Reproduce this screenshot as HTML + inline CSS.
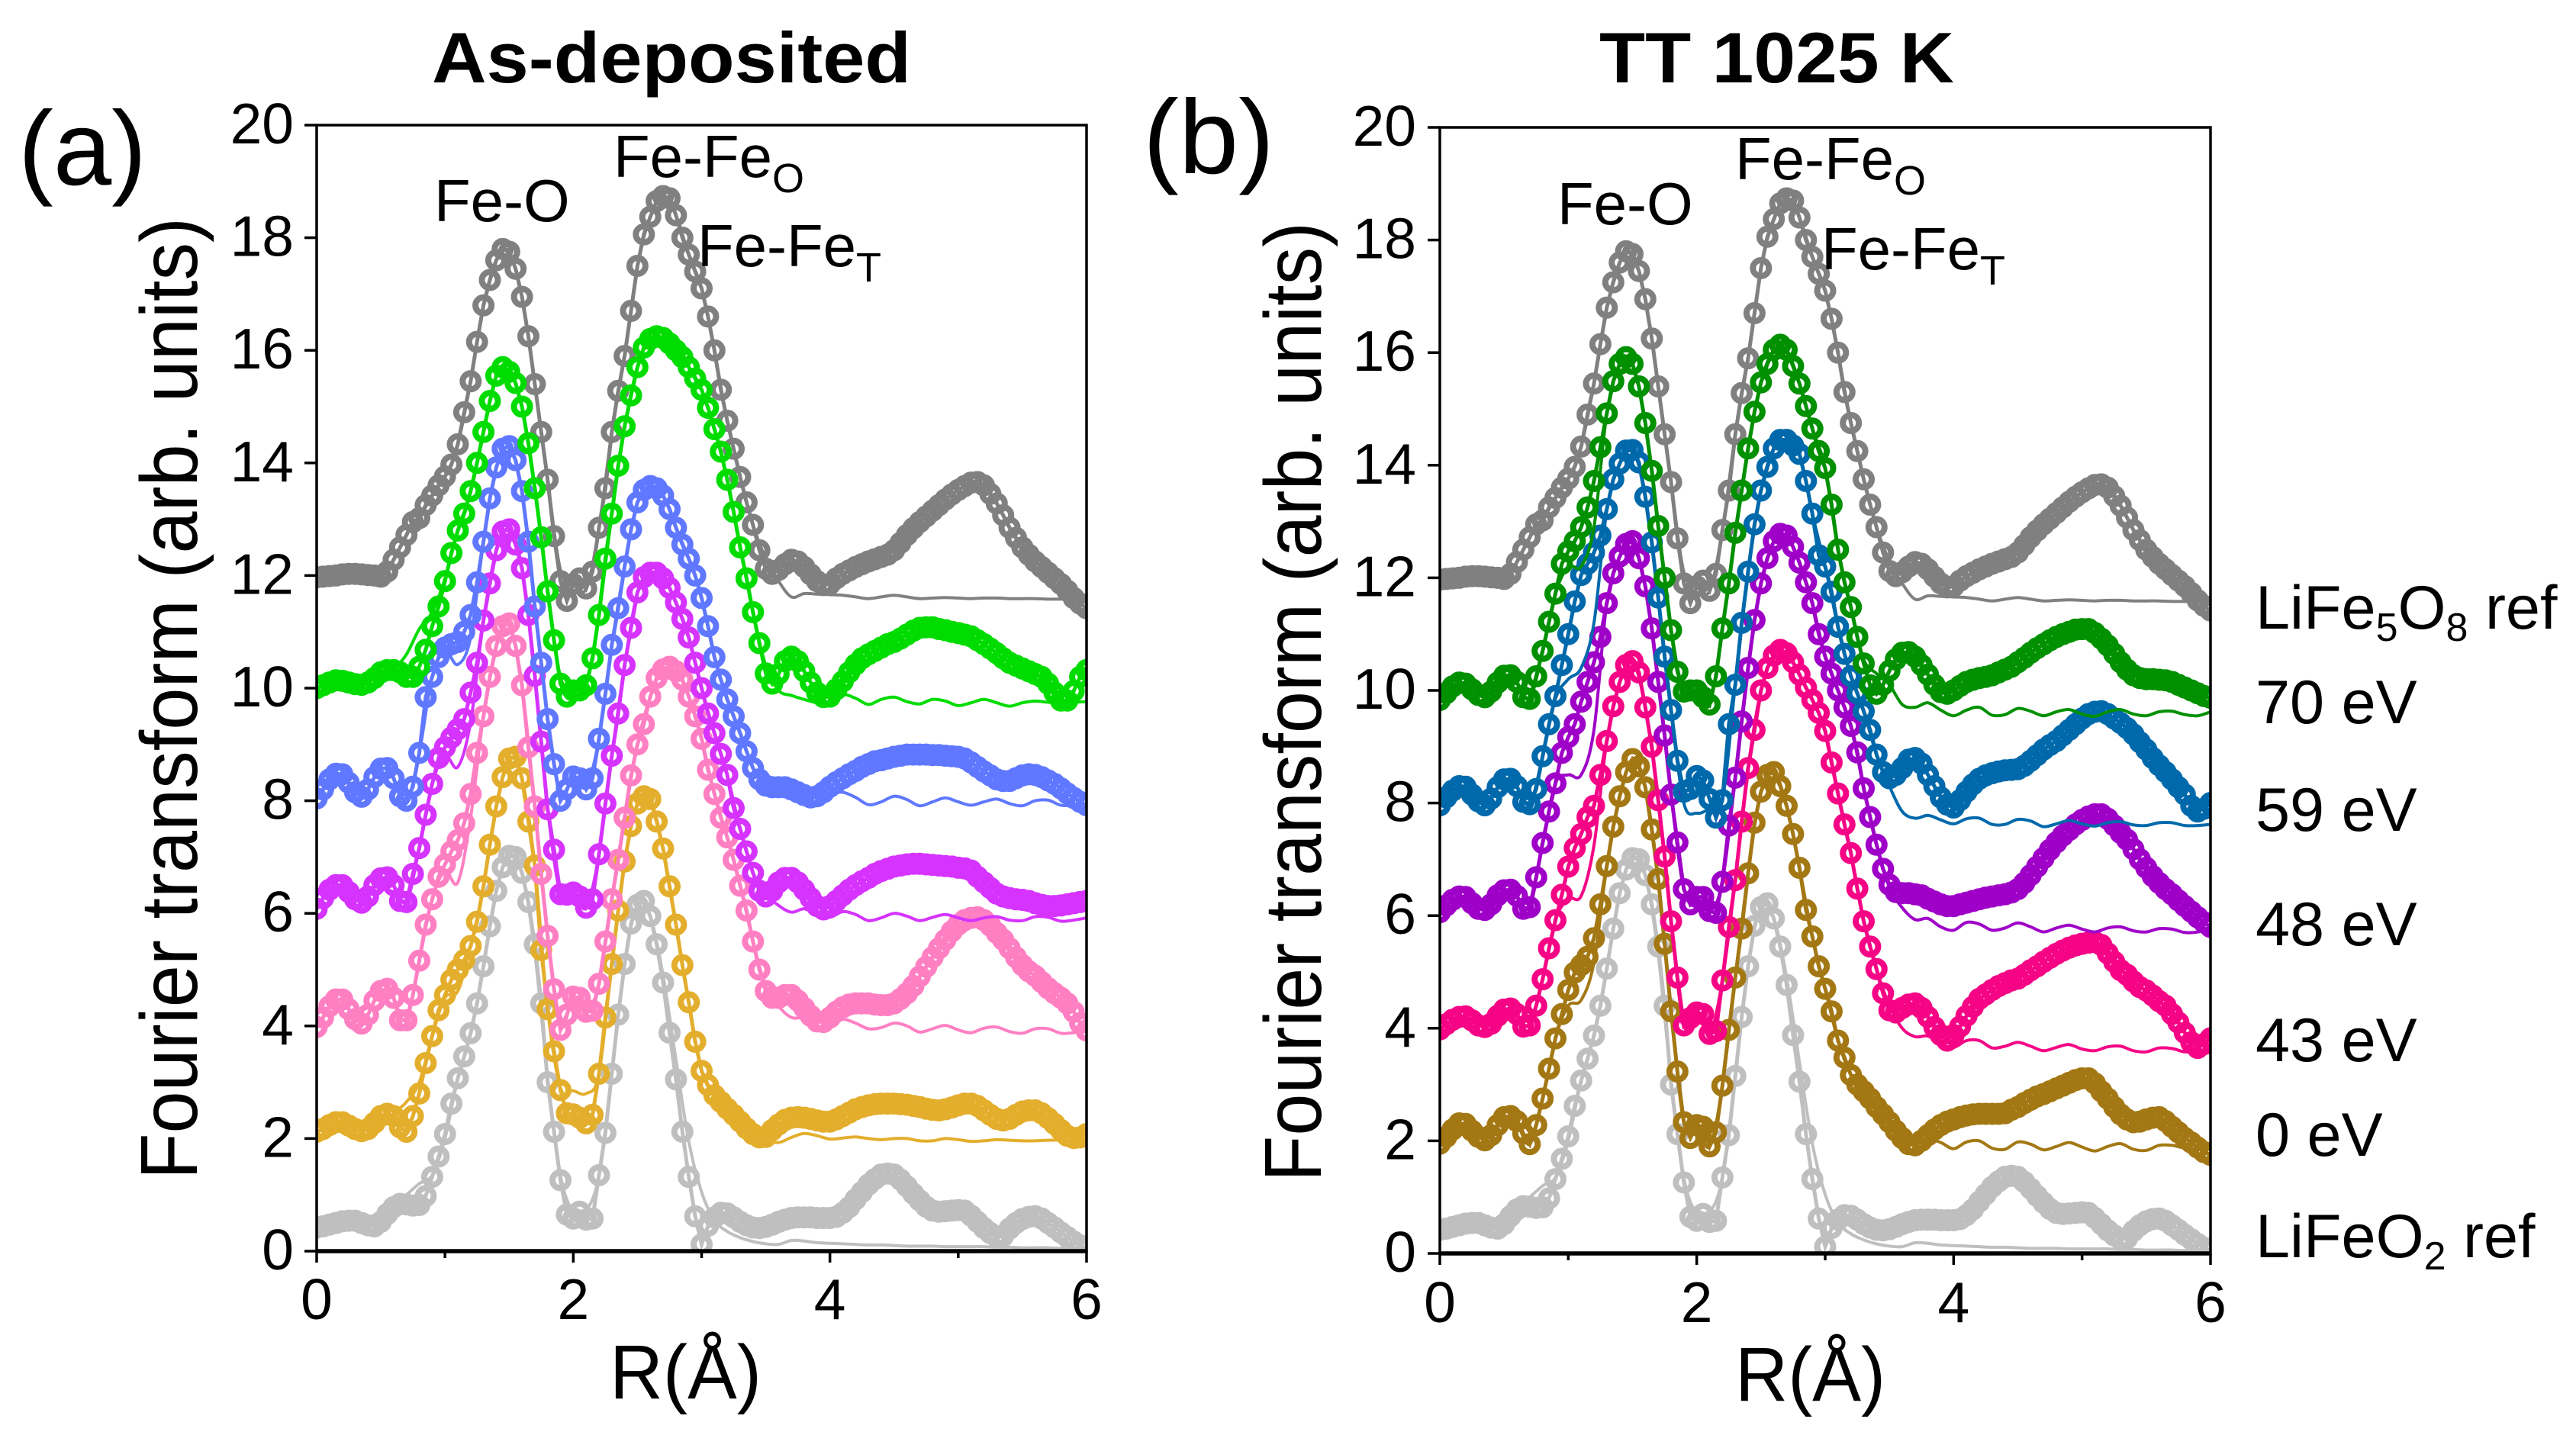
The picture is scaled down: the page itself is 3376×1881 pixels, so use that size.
<!DOCTYPE html>
<html lang="en">
<head>
<meta charset="utf-8">
<title>Fourier transform EXAFS: As-deposited and TT 1025 K</title>
<style>
html,body{margin:0;padding:0;background:#fff;}
svg{display:block;}
text{font-family:"Liberation Sans",sans-serif;fill:#000;}
</style>
</head>
<body>
<svg id="chart" xmlns="http://www.w3.org/2000/svg" width="3376" height="1881" viewBox="0 0 3376 1881">
<rect x="0" y="0" width="3376" height="1881" fill="#fff"/>
<defs>
<clipPath id="clip-a"><rect x="415" y="164" width="1009" height="1476"/></clipPath>
<clipPath id="clip-b"><rect x="1887" y="167" width="1010" height="1476"/></clipPath>
</defs>
<g id="panel-a"></g>
<g id="panel-b"></g>

<text x="566" y="108" font-size="94" font-weight="700" textLength="628" lengthAdjust="spacingAndGlyphs">As-deposited</text>
<text x="2096" y="108" font-size="94" font-weight="700" textLength="465" lengthAdjust="spacingAndGlyphs">TT 1025 K</text>
<text x="24" y="242" font-size="138" textLength="168" lengthAdjust="spacingAndGlyphs">(a)</text>
<text x="1498" y="227" font-size="138" textLength="172" lengthAdjust="spacingAndGlyphs">(b)</text>

<text transform="translate(258,1546) rotate(-90)" font-size="106" textLength="1261" lengthAdjust="spacingAndGlyphs">Fourier transform (arb. units)</text>
<text transform="translate(1731,1549) rotate(-90)" font-size="106" textLength="1258" lengthAdjust="spacingAndGlyphs">Fourier transform (arb. units)</text>
<text x="799" y="1833" font-size="100" textLength="199" lengthAdjust="spacingAndGlyphs">R(Å)</text>
<text x="2274" y="1836" font-size="100" textLength="197" lengthAdjust="spacingAndGlyphs">R(Å)</text>

<text x="569" y="290" font-size="78">Fe-O</text>
<text x="804" y="232" font-size="78">Fe-Fe<tspan font-size="54" dy="20">O</tspan></text>
<text x="914" y="349" font-size="78">Fe-Fe<tspan font-size="54" dy="20">T</tspan></text>
<text x="2041" y="294" font-size="78">Fe-O</text>
<text x="2274" y="235" font-size="78">Fe-Fe<tspan font-size="54" dy="20">O</tspan></text>
<text x="2387" y="353" font-size="78">Fe-Fe<tspan font-size="54" dy="20">T</tspan></text>

<text x="2956" y="824" font-size="81">LiFe<tspan font-size="52" dy="16">5</tspan><tspan dy="-16">O</tspan><tspan font-size="52" dy="16">8</tspan><tspan dy="-16"> ref</tspan></text>
<text x="2956" y="948" font-size="81">70 eV</text>
<text x="2956" y="1089" font-size="81">59 eV</text>
<text x="2956" y="1239" font-size="81">48 eV</text>
<text x="2956" y="1391" font-size="81">43 eV</text>
<text x="2956" y="1515" font-size="81">0 eV</text>
<text x="2956" y="1648" font-size="81">LiFeO<tspan font-size="52" dy="16">2</tspan><tspan dy="-16"> ref</tspan></text>
</svg>

<script>
const xTickLabels = [0, 2, 4, 6];
const xMinorTicks = [1, 3, 5];
const yTickLabels = [0, 2, 4, 6, 8, 10, 12, 14, 16, 18, 20];
const dataStep = 0.05;
const fitStart = 0.6;
const fitStep = 0.1;

const lifeO8Data = [11.97,11.98,11.99,12.0,12.02,12.03,12.03,12.02,12.01,12.0,11.98,
12.07,12.28,12.5,12.72,12.95,13.02,13.25,13.42,13.6,13.76,
13.97,14.33,14.9,15.45,16.15,16.8,17.25,17.6,17.8,17.75,
17.45,16.95,16.25,15.4,14.55,13.7,12.7,11.9,11.55,11.85,
11.95,11.77,12.07,12.85,13.55,14.55,15.28,15.9,16.7,17.5,
18.06,18.37,18.65,18.74,18.7,18.4,18.0,17.7,17.4,17.1,
16.6,16.0,15.3,14.75,14.25,13.75,13.3,12.9,12.45,12.12,
12.03,12.1,12.2,12.28,12.25,12.15,12.02,11.9,11.83,11.85,
11.95,12.03,12.09,12.15,12.2,12.25,12.29,12.33,12.37,12.45,
12.58,12.72,12.84,12.95,13.05,13.15,13.25,13.35,13.44,13.52,
13.59,13.65,13.66,13.6,13.45,13.28,13.07,12.85,12.67,12.5,
12.37,12.25,12.15,12.05,11.95,11.85,11.73,11.6,11.5,11.42];
const lifeO8Fit = [12.28,12.72,13.02,13.42,13.76,14.33,15.45,16.8,17.6,17.75,16.95,15.4,13.7,12.1,11.85,11.77,12.85,14.55,15.9,17.5,18.37,18.74,18.4,17.7,17.1,16.0,14.75,13.75,12.9,12.3,11.9,11.62,11.68,11.67,11.66,11.65,11.62,11.59,11.62,11.65,11.62,11.59,11.6,11.61,11.6,11.59,11.6,11.6,11.59,11.59,11.59,11.58,11.58,11.57,11.57];

const lifeO2Data = [.42,.44,.47,.5,.53,.54,.54,.5,.46,.44,.52,
.66,.78,.84,.83,.81,.82,.98,1.32,1.68,2.08,
2.62,3.07,3.46,3.87,4.4,5.06,5.77,6.4,6.82,7.02,
7.0,6.72,6.2,5.45,4.4,3.0,2.12,1.26,.65,.58,
.7,.56,.58,1.35,2.1,3.15,4.2,5.1,5.82,6.15,
6.22,5.95,5.45,4.77,3.88,3.05,2.12,1.32,.62,.12,
.45,.6,.68,.67,.6,.52,.46,.42,.41,.43,
.47,.52,.56,.59,.6,.6,.6,.59,.59,.59,
.61,.68,.78,.92,1.05,1.18,1.28,1.36,1.38,1.36,
1.27,1.15,1.02,.9,.79,.72,.7,.71,.72,.73,
.72,.63,.52,.41,.32,.25,.27,.4,.5,.57,
.61,.62,.58,.5,.42,.33,.25,.17,.1,.05];
const lifeO2Fit = [.82,1.0,1.2,1.35,2.0,3.07,3.87,5.06,6.4,7.02,6.72,5.3,3.1,1.35,.7,.72,1.35,3.15,5.1,6.15,5.95,4.9,3.4,1.95,1.05,.55,.35,.24,.17,.13,.12,.19,.18,.15,.14,.13,.12,.11,.11,.1,.09,.09,.09,.08,.08,.08,.08,.07,.07,.06,.06,.06,.05,.05,.05];

const a70Data = [10.0,10.05,10.1,10.14,10.13,10.1,10.07,10.06,10.1,10.18,10.28,
10.32,10.32,10.28,10.2,10.2,10.38,10.68,11.1,11.45,11.9,
12.4,12.8,13.1,13.5,14.0,14.55,15.1,15.55,15.7,15.62,
15.42,15.0,14.35,13.55,12.68,11.72,10.85,10.08,9.85,9.96,
9.96,10.05,10.53,11.3,12.3,13.1,13.95,14.65,15.2,15.7,
16.05,16.2,16.25,16.22,16.12,16.0,15.88,15.7,15.5,15.3,
14.98,14.6,14.2,13.7,13.13,12.5,11.95,11.35,10.8,10.26,
10.08,10.25,10.48,10.56,10.48,10.3,10.1,9.92,9.84,9.85,
9.98,10.12,10.28,10.42,10.53,10.6,10.66,10.72,10.78,10.82,
10.88,10.95,11.02,11.07,11.08,11.08,11.05,11.03,11.0,10.98,
10.95,10.92,10.85,10.78,10.7,10.62,10.53,10.45,10.4,10.35,
10.3,10.25,10.2,10.08,9.92,9.78,9.78,9.95,10.2,10.32];
const a70Fit = [10.32,10.6,11.05,11.35,11.95,12.8,13.5,14.55,15.55,15.62,15.0,13.55,11.72,10.2,10.0,10.1,11.3,13.1,14.65,15.7,16.2,16.22,16.0,15.7,15.3,14.6,13.7,12.5,11.35,10.4,9.96,9.87,9.8,9.74,9.72,9.88,9.82,9.71,9.8,9.84,9.76,9.72,9.8,9.77,9.69,9.74,9.8,9.74,9.68,9.74,9.77,9.75,9.74,9.75,9.76];

const a59Data = [8.04,8.2,8.38,8.48,8.47,8.32,8.15,8.07,8.2,8.42,8.57,
8.58,8.4,8.08,8.0,8.25,8.85,9.84,10.2,10.55,10.72,
10.78,10.82,11.0,11.3,11.88,12.6,13.37,13.92,14.25,14.3,
14.05,13.5,12.6,11.45,10.45,9.45,8.65,8.0,8.2,8.43,
8.4,8.2,8.4,9.1,9.9,10.77,11.42,12.16,12.82,13.3,
13.52,13.59,13.55,13.42,13.18,12.85,12.55,12.3,12.0,11.6,
11.1,10.55,10.15,9.8,9.5,9.2,8.88,8.58,8.38,8.27,
8.24,8.24,8.24,8.2,8.15,8.1,8.06,8.08,8.15,8.25,
8.33,8.4,8.47,8.53,8.6,8.65,8.7,8.72,8.75,8.78,
8.8,8.82,8.82,8.82,8.82,8.81,8.81,8.8,8.79,8.78,
8.75,8.68,8.6,8.52,8.45,8.38,8.35,8.35,8.4,8.45,
8.47,8.46,8.42,8.36,8.3,8.22,8.13,8.05,7.98,7.92];
const a59Fit = [8.4,8.0,8.85,10.2,10.65,10.42,10.9,12.6,13.92,14.27,13.5,11.45,9.45,8.1,8.4,8.25,9.1,10.77,12.16,13.3,13.59,13.42,12.85,12.3,11.6,10.55,9.8,9.2,8.58,8.27,8.2,8.15,8.1,8.08,8.12,8.15,8.06,7.93,7.98,8.08,8.02,7.91,7.98,8.05,7.98,7.92,7.98,8.03,7.95,7.91,8.0,8.01,7.92,7.92,7.94];

const a48Data = [6.08,6.27,6.42,6.5,6.5,6.38,6.25,6.19,6.3,6.5,6.62,
6.64,6.5,6.22,6.2,6.7,7.16,7.75,8.3,8.76,8.95,
9.12,9.27,9.45,9.92,10.45,11.2,11.86,12.45,12.78,12.82,
12.55,12.13,11.3,10.22,9.05,7.85,7.13,6.34,6.33,6.37,
6.3,6.1,6.25,7.05,7.95,8.8,9.55,10.41,11.07,11.7,
11.97,12.05,12.05,11.95,11.78,11.52,11.23,10.9,10.45,10.0,
9.55,9.2,8.83,8.46,7.87,7.5,7.1,6.72,6.4,6.3,
6.4,6.55,6.63,6.63,6.55,6.42,6.27,6.13,6.07,6.13,
6.22,6.32,6.42,6.5,6.57,6.63,6.7,6.75,6.79,6.83,
6.85,6.87,6.88,6.88,6.87,6.86,6.85,6.84,6.83,6.81,
6.8,6.76,6.65,6.55,6.45,6.35,6.3,6.27,6.25,6.24,
6.22,6.18,6.15,6.13,6.13,6.14,6.16,6.18,6.2,6.22];
const a48Fit = [6.5,6.2,7.16,8.3,8.8,8.6,9.4,11.2,12.45,12.82,12.13,10.22,7.85,6.34,6.37,6.1,7.05,8.8,10.41,11.7,12.05,11.95,11.52,10.9,10.0,9.2,8.46,7.5,6.72,6.35,6.14,6.02,6.08,5.98,5.93,6.03,5.98,5.87,5.92,6.0,5.95,5.87,5.93,5.98,5.92,5.87,5.92,5.94,5.88,5.87,5.94,5.93,5.86,5.88,5.92];

const a43Data = [3.98,4.15,4.35,4.47,4.47,4.3,4.12,4.04,4.2,4.45,4.62,
4.66,4.5,4.1,4.1,4.55,5.16,5.8,6.25,6.65,6.87,
7.1,7.3,7.6,8.12,8.85,9.5,10.2,10.75,11.1,11.15,
10.75,10.05,8.95,7.9,6.7,5.6,4.65,3.93,4.2,4.52,
4.5,4.25,4.27,4.75,5.5,6.25,6.95,7.7,8.45,9.0,
9.36,9.85,10.18,10.33,10.38,10.3,10.15,9.85,9.5,9.1,
8.55,8.12,7.7,7.35,6.95,6.49,6.05,5.5,5.0,4.62,
4.5,4.5,4.55,4.55,4.45,4.32,4.18,4.08,4.07,4.15,
4.25,4.33,4.38,4.4,4.4,4.4,4.38,4.37,4.37,4.4,
4.48,4.58,4.71,4.88,5.05,5.22,5.38,5.53,5.68,5.8,
5.88,5.92,5.93,5.88,5.78,5.65,5.53,5.38,5.22,5.08,
4.97,4.89,4.78,4.67,4.58,4.5,4.4,4.25,4.05,3.92];
const a43Fit = [4.5,4.1,5.16,6.25,6.75,6.55,7.7,9.5,10.75,11.15,10.05,7.9,5.6,4.0,4.5,4.25,4.75,6.25,7.7,9.0,9.85,10.33,10.3,9.85,9.1,8.12,7.35,6.49,5.5,4.7,4.35,4.15,4.15,4.08,4.05,4.12,4.05,3.95,3.97,4.05,4.0,3.89,3.95,4.01,3.93,3.88,3.96,3.98,3.9,3.87,3.95,3.95,3.87,3.88,3.92];

const a0Data = [2.12,2.17,2.24,2.29,2.29,2.23,2.17,2.13,2.17,2.28,2.4,
2.44,2.4,2.2,2.12,2.4,2.8,3.34,3.82,4.28,4.55,
4.82,5.0,5.17,5.42,5.85,6.48,7.22,7.9,8.42,8.75,
8.78,8.4,7.63,6.85,5.35,4.3,3.55,2.86,2.45,2.43,
2.37,2.27,2.42,3.15,4.15,5.1,6.05,6.92,7.55,7.95,
8.08,8.03,7.63,7.15,6.48,5.8,5.08,4.42,3.72,3.2,
2.95,2.77,2.65,2.53,2.42,2.3,2.18,2.08,2.02,2.03,
2.15,2.25,2.33,2.37,2.38,2.37,2.35,2.32,2.3,2.3,
2.34,2.4,2.46,2.52,2.56,2.59,2.61,2.62,2.62,2.62,
2.61,2.6,2.58,2.56,2.53,2.51,2.5,2.52,2.55,2.59,
2.62,2.62,2.58,2.5,2.42,2.35,2.32,2.35,2.42,2.48,
2.5,2.5,2.45,2.36,2.26,2.15,2.05,2.01,2.02,2.08];
const a0Fit = [2.45,2.65,3.0,3.82,4.5,4.62,5.42,6.48,7.9,8.75,8.4,6.85,4.3,2.9,2.85,2.8,3.15,5.1,6.92,7.95,8.03,7.15,5.8,4.42,3.2,2.77,2.5,2.25,2.05,1.98,1.93,2.02,2.09,2.05,1.99,2.01,2.03,2.0,1.98,2.0,2.0,1.96,1.96,2.0,1.98,1.95,1.96,1.98,1.97,1.96,1.96,1.97,1.97,1.95,1.94];

const b70Data = [9.83,9.95,10.07,10.14,10.12,10.02,9.92,9.88,9.98,10.14,10.26,
10.27,10.15,9.88,9.85,10.25,10.7,11.22,11.72,12.25,12.47,
12.65,12.9,13.25,13.72,14.32,14.92,15.49,15.8,15.92,15.8,
15.4,14.75,13.9,12.92,12.0,11.07,10.33,9.98,10.0,10.0,
9.88,9.75,10.25,11.1,11.9,12.8,13.55,14.3,14.95,15.47,
15.8,16.05,16.14,16.05,15.76,15.45,15.05,14.65,14.25,13.95,
13.3,12.5,11.92,11.48,10.95,10.48,10.09,9.94,10.1,10.35,
10.55,10.67,10.68,10.6,10.45,10.28,10.1,9.97,9.94,10.0,
10.08,10.15,10.19,10.22,10.24,10.27,10.32,10.37,10.42,10.5,
10.58,10.67,10.75,10.82,10.89,10.95,11.0,11.04,11.08,11.09,
11.09,11.02,10.92,10.8,10.65,10.5,10.37,10.27,10.22,10.2,
10.2,10.19,10.18,10.15,10.1,10.05,10.0,9.95,9.9,9.87];
const b70Fit = [10.15,9.85,10.7,11.72,12.2,12.2,12.9,14.92,15.8,15.8,14.75,12.92,11.07,9.98,10.0,9.75,11.1,12.8,14.3,15.47,16.05,16.05,15.45,14.65,13.95,12.5,11.48,10.55,10.3,10.1,9.75,9.7,9.78,9.65,9.55,9.65,9.7,9.56,9.57,9.68,9.63,9.55,9.62,9.66,9.58,9.54,9.62,9.66,9.58,9.55,9.62,9.63,9.57,9.55,9.62];

const b59Data = [7.96,8.1,8.22,8.3,8.29,8.15,8.03,7.96,8.08,8.28,8.42,
8.43,8.3,8.02,7.98,8.25,8.83,9.4,9.9,10.45,11.0,
11.58,12.05,12.25,12.45,12.75,13.22,13.75,14.03,14.26,14.27,
14.05,13.44,12.63,11.65,10.6,9.65,8.75,8.2,8.25,8.48,
8.4,8.07,7.74,8.05,9.4,10.1,11.2,12.11,12.95,13.55,
13.97,14.3,14.45,14.45,14.35,14.2,13.72,13.14,12.4,12.2,
11.75,11.13,10.65,10.25,9.95,9.63,9.3,8.86,8.55,8.44,
8.5,8.62,8.77,8.8,8.7,8.5,8.3,8.1,7.97,7.92,
8.05,8.2,8.33,8.43,8.49,8.53,8.56,8.58,8.59,8.6,
8.66,8.75,8.85,8.95,9.03,9.1,9.2,9.3,9.4,9.5,
9.58,9.62,9.63,9.58,9.5,9.42,9.33,9.22,9.08,8.95,
8.8,8.67,8.55,8.42,8.28,8.15,7.95,7.85,7.9,8.0];
const b59Fit = [8.3,7.98,8.83,9.85,10.2,10.4,11.2,13.2,14.03,14.27,13.44,11.65,9.65,8.0,7.82,7.9,8.05,10.1,12.11,13.55,14.3,14.45,14.2,13.14,12.2,11.13,10.25,9.63,8.86,8.3,7.85,7.73,7.78,7.7,7.63,7.72,7.73,7.62,7.62,7.71,7.68,7.58,7.63,7.69,7.63,7.59,7.65,7.67,7.61,7.6,7.65,7.65,7.6,7.6,7.62];

const b48Data = [6.06,6.18,6.28,6.34,6.33,6.22,6.12,6.1,6.2,6.36,6.45,
6.46,6.35,6.12,6.15,6.68,7.29,7.85,8.35,8.89,9.17,
9.4,9.8,10.15,10.5,10.95,11.55,12.08,12.38,12.6,12.65,
12.35,11.85,11.1,10.15,9.2,8.15,7.3,6.47,6.2,6.33,
6.33,6.08,6.05,6.6,7.6,8.45,9.45,10.4,11.25,11.9,
12.35,12.65,12.78,12.75,12.55,12.27,11.92,11.55,11.0,10.6,
10.3,10.0,9.7,9.37,8.9,8.26,7.75,7.26,6.83,6.55,
6.42,6.4,6.4,6.38,6.36,6.3,6.25,6.2,6.17,6.17,
6.2,6.23,6.26,6.29,6.32,6.34,6.36,6.38,6.41,6.47,
6.58,6.72,6.87,7.02,7.17,7.3,7.42,7.52,7.62,7.7,
7.76,7.8,7.8,7.72,7.6,7.47,7.35,7.18,7.0,6.85,
6.7,6.58,6.47,6.38,6.27,6.17,6.07,5.97,5.88,5.8];
const b48Fit = [6.35,6.15,7.29,8.35,8.5,8.5,9.3,11.55,12.38,12.65,11.85,10.15,8.15,6.47,6.33,6.08,6.6,8.45,10.4,11.9,12.65,12.75,12.27,11.55,10.6,10.0,9.37,8.26,7.26,6.5,6.14,5.93,5.95,5.8,5.74,5.88,5.85,5.74,5.78,5.87,5.8,5.71,5.78,5.83,5.76,5.71,5.78,5.8,5.73,5.71,5.77,5.76,5.7,5.71,5.77];

const b43Data = [3.98,4.07,4.15,4.2,4.21,4.14,4.05,4.02,4.08,4.22,4.33,
4.35,4.25,4.03,4.05,4.4,4.87,5.42,5.92,6.37,6.87,
7.2,7.45,7.75,7.95,8.5,9.1,9.72,10.15,10.45,10.52,
10.32,9.7,9.0,8.05,7.05,5.9,4.9,4.05,4.18,4.28,
4.25,3.9,3.95,4.85,5.8,6.63,7.67,8.62,9.3,10.0,
10.4,10.62,10.72,10.66,10.5,10.28,10.05,9.83,9.6,9.28,
8.72,8.17,7.62,7.11,6.48,5.9,5.45,5.05,4.62,4.32,
4.28,4.36,4.42,4.44,4.36,4.2,4.02,3.88,3.78,3.88,
4.03,4.22,4.38,4.52,4.6,4.68,4.75,4.8,4.85,4.88,
4.95,5.03,5.1,5.18,5.25,5.32,5.38,5.43,5.47,5.5,
5.52,5.53,5.48,5.33,5.18,5.03,4.95,4.83,4.73,4.67,
4.58,4.48,4.4,4.25,4.1,3.92,3.75,3.65,3.72,3.82];
const b43Fit = [4.25,4.05,4.87,5.92,6.3,6.35,7.25,9.1,10.15,10.52,9.7,8.05,5.9,4.05,4.28,3.9,4.85,6.63,8.62,10.0,10.62,10.66,10.28,9.83,9.28,8.17,7.11,5.9,5.05,4.4,4.0,3.85,3.86,3.72,3.66,3.78,3.78,3.65,3.68,3.75,3.68,3.6,3.66,3.71,3.63,3.6,3.67,3.68,3.6,3.58,3.65,3.64,3.58,3.59,3.63];

const b0Data = [1.95,2.07,2.2,2.31,2.3,2.18,2.07,2.01,2.1,2.28,2.42,
2.44,2.35,2.13,1.94,2.28,2.75,3.28,3.82,4.25,4.68,
4.99,5.12,5.27,5.6,6.2,6.88,7.58,8.12,8.55,8.78,
8.65,8.28,7.53,6.65,5.5,4.3,3.23,2.33,2.05,2.28,
2.25,1.9,2.15,2.98,3.97,4.9,5.77,6.75,7.65,8.2,
8.5,8.55,8.3,7.95,7.45,6.85,6.1,5.63,5.1,4.7,
4.3,3.78,3.48,3.17,3.0,2.88,2.75,2.6,2.47,2.33,
2.18,2.05,1.94,1.92,2.0,2.1,2.2,2.28,2.34,2.38,
2.42,2.45,2.47,2.48,2.48,2.48,2.48,2.49,2.55,2.6,
2.67,2.73,2.79,2.83,2.88,2.93,2.98,3.03,3.08,3.11,
3.11,3.02,2.88,2.75,2.6,2.47,2.38,2.33,2.34,2.38,
2.41,2.42,2.35,2.25,2.15,2.05,1.97,1.88,1.8,1.75];
const b0Fit = [2.35,1.94,2.75,3.82,4.4,4.5,5.17,6.88,8.12,8.78,8.28,6.65,4.3,2.33,2.28,1.9,2.98,4.9,6.75,8.2,8.55,7.95,6.85,5.63,4.7,3.78,3.17,2.88,2.6,2.33,2.05,1.95,2.03,1.97,1.86,1.98,2.0,1.87,1.85,1.98,1.94,1.84,1.9,1.97,1.89,1.82,1.9,1.95,1.85,1.83,1.92,1.92,1.87,1.85,1.85];

const panelASeries = [
  {name:'lifeo2-ref', color:'#bfbfbf', data:lifeO2Data, fit:lifeO2Fit},
  {name:'0-ev', color:'#e4ae2d', data:a0Data, fit:a0Fit},
  {name:'43-ev', color:'#ff7fc3', data:a43Data, fit:a43Fit},
  {name:'48-ev', color:'#d633ff', data:a48Data, fit:a48Fit},
  {name:'59-ev', color:'#6078ff', data:a59Data, fit:a59Fit},
  {name:'life5o8-ref', color:'#808080', data:lifeO8Data, fit:lifeO8Fit},
  {name:'70-ev', color:'#00dc00', data:a70Data, fit:a70Fit}
];
const panelBSeries = [
  {name:'lifeo2-ref', color:'#bfbfbf', data:lifeO2Data, fit:lifeO2Fit},
  {name:'0-ev', color:'#a37814', data:b0Data, fit:b0Fit},
  {name:'43-ev', color:'#f50585', data:b43Data, fit:b43Fit},
  {name:'48-ev', color:'#9f00c8', data:b48Data, fit:b48Fit},
  {name:'59-ev', color:'#0069ab', data:b59Data, fit:b59Fit},
  {name:'life5o8-ref', color:'#808080', data:lifeO8Data, fit:lifeO8Fit},
  {name:'70-ev', color:'#009000', data:b70Data, fit:b70Fit}
];

const SVG_NS = 'http://www.w3.org/2000/svg';

function makeEl(tag, attrs) {
  const el = document.createElementNS(SVG_NS, tag);
  for (const k in attrs) el.setAttribute(k, attrs[k]);
  return el;
}

function makeAxes(layout) {
  return {
    x: function (r) { return layout.left + (layout.right - layout.left) * r / 6; },
    y: function (v) { return layout.bottom - (layout.bottom - layout.top) * v / 20; }
  };
}

function smoothPath(points) {
  let d = 'M' + points[0][0].toFixed(1) + ' ' + points[0][1].toFixed(1);
  for (let i = 0; i < points.length - 1; i++) {
    const p0 = points[Math.max(i - 1, 0)];
    const p1 = points[i];
    const p2 = points[i + 1];
    const p3 = points[Math.min(i + 2, points.length - 1)];
    const c1x = p1[0] + (p2[0] - p0[0]) / 6;
    const c1y = p1[1] + (p2[1] - p0[1]) / 6;
    const c2x = p2[0] - (p3[0] - p1[0]) / 6;
    const c2y = p2[1] - (p3[1] - p1[1]) / 6;
    d += 'C' + c1x.toFixed(1) + ' ' + c1y.toFixed(1) + ' ' + c2x.toFixed(1) + ' ' + c2y.toFixed(1) + ' ' + p2[0].toFixed(1) + ' ' + p2[1].toFixed(1);
  }
  return d;
}

function drawSeries(parent, axes, series, prefix) {
  const group = makeEl('g', {});
  
  

  const fitPoints = series.fit.map(function (v, i) { return [axes.x(fitStart + i * fitStep), axes.y(v)]; });
  const fitLine = makeEl('path', {d: smoothPath(fitPoints), fill: 'none', stroke: series.color, 'stroke-width': 4});
  
  
  group.appendChild(fitLine);

  const dataPoints = series.data.map(function (v, i) { return [axes.x(i * dataStep), axes.y(v)]; });
  const dataLine = makeEl('polyline', {points: dataPoints.map(function (p) { return p[0].toFixed(1) + ',' + p[1].toFixed(1); }).join(' '), fill: 'none', stroke: series.color, 'stroke-width': 5});
  
  
  group.appendChild(dataLine);

  dataPoints.forEach(function (p) {
    const ring = makeEl('circle', {cx: p[0].toFixed(1), cy: p[1].toFixed(1), r: 10.5, fill: 'none', stroke: series.color, 'stroke-width': 8});
    
    
    group.appendChild(ring);
  });
  parent.appendChild(group);
}

function drawFrame(parent, axes, layout, prefix) {
  const frame = makeEl('rect', {x: layout.left, y: layout.top, width: layout.right - layout.left, height: layout.bottom - layout.top, fill: 'none', stroke: '#000', 'stroke-width': 3.5});
  
  
  parent.appendChild(frame);

  const baseLine = makeEl('line', {x1: layout.left, x2: layout.right, y1: layout.bottom, y2: layout.bottom, stroke: '#000', 'stroke-width': 5.5});
  
  
  parent.appendChild(baseLine);

  yTickLabels.forEach(function (v) {
    const y = axes.y(v);
    const tick = makeEl('line', {x1: layout.left - 16, x2: layout.left, y1: y, y2: y, stroke: '#000', 'stroke-width': 3.5});
    
    
    parent.appendChild(tick);
    const label = makeEl('text', {x: layout.yLabelX, y: y + 24, 'font-size': 75, 'text-anchor': 'end'});
    label.textContent = String(v);
    
    
    parent.appendChild(label);
  });

  xTickLabels.forEach(function (r) {
    const x = axes.x(r);
    const tick = makeEl('line', {x1: x, x2: x, y1: layout.bottom, y2: layout.bottom + 15, stroke: '#000', 'stroke-width': 3.5});
    
    
    parent.appendChild(tick);
    const label = makeEl('text', {x: x, y: layout.xLabelY, 'font-size': 75, 'text-anchor': 'middle'});
    label.textContent = String(r);
    
    
    parent.appendChild(label);
  });

  xMinorTicks.forEach(function (r) {
    const x = axes.x(r);
    const tick = makeEl('line', {x1: x, x2: x, y1: layout.bottom, y2: layout.bottom + 9, stroke: '#000', 'stroke-width': 3.5});
    
    
    parent.appendChild(tick);
  });
}

function drawPanel(id, seriesList, layout, clipId, prefix) {
  const panel = document.getElementById(id);
  const axes = makeAxes(layout);
  const plot = makeEl('g', {'clip-path': 'url(#' + clipId + ')'});
  
  
  seriesList.forEach(function (s) { drawSeries(plot, axes, s, prefix); });
  panel.appendChild(plot);
  drawFrame(panel, axes, layout, prefix);
}

drawPanel('panel-a', panelASeries, {left: 415, right: 1424, top: 164, bottom: 1640, yLabelX: 385, xLabelY: 1729}, 'clip-a', 'panel-a');
drawPanel('panel-b', panelBSeries, {left: 1887, right: 2897, top: 167, bottom: 1643, yLabelX: 1856, xLabelY: 1733}, 'clip-b', 'panel-b');
</script>
</body>
</html>
